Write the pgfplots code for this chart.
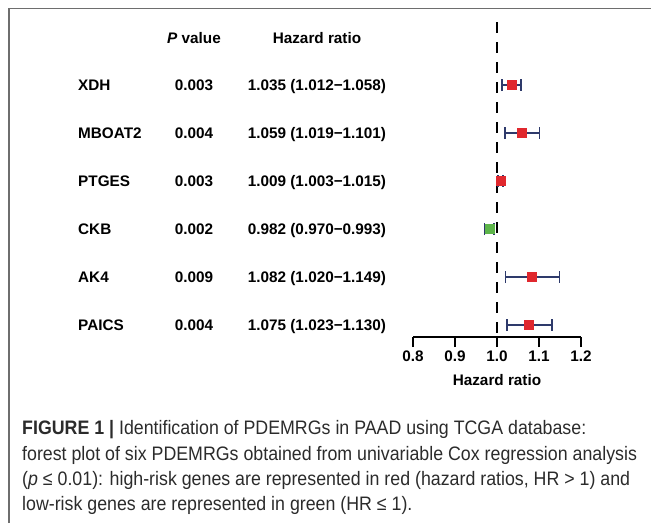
\documentclass[border=0pt]{standalone}
\usepackage{fontspec}
\setmainfont{Liberation Sans}
\newfontfamily\capfont[FakeStretch=0.912]{Liberation Sans}
\usepackage{pgfplots}
\usepackage{pgfplotstable}
\pgfplotsset{compat=1.18}
\definecolor{hrred}{HTML}{E0282E}
\definecolor{hrgreen}{HTML}{5DB54A}
\definecolor{barnavy}{HTML}{2E3A6B}
\definecolor{framegray}{HTML}{6E6E6E}
\definecolor{captext}{HTML}{2B2B2B}
% row: 6 = XDH (top) ... 1 = PAICS (bottom)
\pgfplotstableread{
row hr em ep
6 1.035 0.023 0.023
5 1.059 0.040 0.042
4 1.009 0.006 0.006
3 0.982 0.012 0.011
2 1.082 0.062 0.067
1 1.075 0.052 0.055
}\alltab
\pgfplotstableread{
row hr
6 1.035
5 1.059
4 1.009
2 1.082
1 1.075
}\hightab
\pgfplotstableread{
row hr
3 0.982
}\lowtab
\newcommand\tabfont{\bfseries\fontsize{15.3}{16}\selectfont}
\newcommand\generow[4]{%
  \node[anchor=base west,inner sep=0] at (78,-#1) {\tabfont #2};
  \node[anchor=base,inner sep=0] at (194,-#1) {\tabfont #3};
  \node[anchor=base,inner sep=0] at (317,-#1) {\tabfont #4};}
\begin{document}
\begin{tikzpicture}[x=1pt,y=1pt]
\path[use as bounding box] (0,0) rectangle (651,-523);
\draw[framegray, line width=1.6pt] (9,-523) -- (9,-8.5) -- (651,-8.5);
% header
\node[anchor=base,inner sep=0] at (194,-43) {\tabfont\textit{P} value};
\node[anchor=base,inner sep=0] at (317,-43) {\tabfont Hazard ratio};
\generow{90.5}{XDH}{0.003}{1.035 (1.012−1.058)}
\generow{138.5}{MBOAT2}{0.004}{1.059 (1.019−1.101)}
\generow{186.5}{PTGES}{0.003}{1.009 (1.003−1.015)}
\generow{234.5}{CKB}{0.002}{0.982 (0.970−0.993)}
\generow{282.5}{AK4}{0.009}{1.082 (1.020−1.149)}
\generow{330.5}{PAICS}{0.004}{1.075 (1.023−1.130)}
\begin{axis}[
  at={(413pt,-337pt)}, anchor=south west,
  scale only axis, width=168pt, height=315pt,
  xmin=0.8, xmax=1.2, ymin=0.75, ymax=7.3125,
  clip=false,
  axis x line*=bottom, axis y line=none,
  axis line style={line width=2.2pt, black},
  xtick={0.8,0.9,1.0,1.1,1.2},
  xtick align=outside, major tick length=10pt,
  tick style={line width=2.2pt, black},
  xticklabel style={font=\bfseries\fontsize{15.3}{16}\selectfont, anchor=base, yshift=-14pt},
  /pgf/number format/.cd, fixed, fixed zerofill, precision=1, assume math mode=true, /pgfplots/.cd,
  xlabel={Hazard ratio},
  xlabel style={font=\bfseries\fontsize{15.3}{16}\selectfont, at={(axis description cs:0.5,0)}, anchor=base, yshift=-48pt},
]
\addplot[black, line width=2.2pt, dash pattern=on 11pt off 9pt] coordinates {(1,7.3125) (1,0.75)};
\addplot[draw=none, mark=none, forget plot,
  error bars/.cd, x dir=both, x explicit, error mark=|,
  error bar style={draw=barnavy, line width=1.8pt, solid},
  error mark options={draw=barnavy, line width=1.8pt, mark size=6pt}]
  table[x=hr, y=row, x error minus=em, x error plus=ep] {\alltab};
\addplot[only marks, mark=square*, mark size=4.6pt, mark options={fill=hrred, draw=hrred, line width=0.4pt}]
  table[x=hr, y=row] {\hightab};
\addplot[only marks, mark=square*, mark size=4.6pt, mark options={fill=hrgreen, draw=hrgreen, line width=0.4pt}]
  table[x=hr, y=row] {\lowtab};
\end{axis}
% caption
\begin{scope}[every node/.style={anchor=base west, inner sep=0, text=captext, font=\capfont\fontsize{19.5}{20}\selectfont}]
\node at (22,-434) {\textbf{FIGURE 1 |} Identification of PDEMRGs in PAAD using TCGA database:};
\node at (22,-460) {forest plot of six PDEMRGs obtained from univariable Cox regression analysis};
\node at (22,-485) {(\textit{p} ≤ 0.01): high-risk genes are represented in red (hazard ratios, HR > 1) and};
\node at (22,-510) {low-risk genes are represented in green (HR ≤ 1).};
\end{scope}
\end{tikzpicture}
\end{document}
